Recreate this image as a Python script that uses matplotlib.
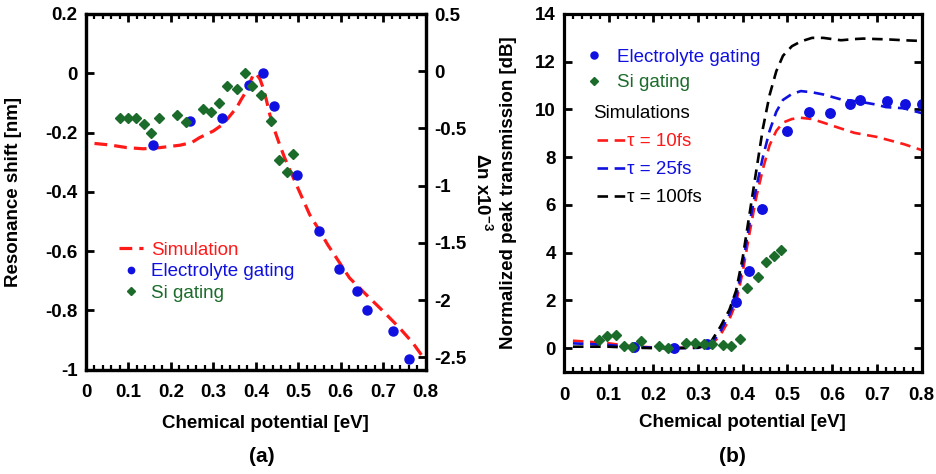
import numpy as np
import matplotlib
matplotlib.use("Agg")
import matplotlib.pyplot as plt
from matplotlib.ticker import MultipleLocator, FuncFormatter

plt.rcParams['font.family'] = ['Liberation Sans', 'DejaVu Sans']
plt.rcParams['axes.unicode_minus'] = False
plt.rcParams['mathtext.fontset'] = 'custom'
plt.rcParams['mathtext.rm'] = 'Liberation Sans:bold'
plt.rcParams['mathtext.bf'] = 'Liberation Sans:bold'

RED = '#ff1a1a'
BLUE = '#1010e0'
GREEN = '#1b6b2b'
FS = 13.5

# ---- (a) resonance shift ----
sim_a_x = [0.02, 0.056, 0.096, 0.135, 0.174, 0.221, 0.249, 0.268, 0.30, 0.323, 0.339,
           0.355, 0.366, 0.378, 0.386, 0.394, 0.400, 0.41, 0.417, 0.425, 0.433, 0.445,
           0.456, 0.468, 0.48, 0.50, 0.527, 0.551, 0.57, 0.59, 0.621, 0.66, 0.70,
           0.739, 0.77, 0.80]
sim_a_y = [-0.237, -0.242, -0.251, -0.255, -0.251, -0.243, -0.234, -0.217, -0.195,
           -0.172, -0.144, -0.116, -0.088, -0.060, -0.032, -0.006, 0.0, -0.02, -0.048,
           -0.09, -0.139, -0.195, -0.240, -0.285, -0.325, -0.39, -0.477, -0.533, -0.58,
           -0.623, -0.691, -0.747, -0.803, -0.860, -0.91, -0.97]

el_a_x = [0.158, 0.246, 0.321, 0.384, 0.416, 0.444, 0.498, 0.549, 0.595, 0.639,
          0.661, 0.723, 0.762]
el_a_y = [-0.242, -0.161, -0.152, -0.041, 0.0, -0.112, -0.343, -0.531, -0.660,
          -0.734, -0.800, -0.871, -0.966]

si_a_x = [0.080, 0.100, 0.118, 0.136, 0.152, 0.173, 0.215, 0.235, 0.275, 0.294,
          0.314, 0.333, 0.356, 0.375, 0.392, 0.413, 0.435, 0.454, 0.474, 0.488]
si_a_y = [-0.152, -0.152, -0.152, -0.172, -0.203, -0.152, -0.141, -0.163, -0.122,
          -0.131, -0.101, -0.042, -0.052, 0.0, -0.042, -0.073, -0.162, -0.294,
          -0.335, -0.274]

# ---- (b) normalized peak transmission ----
sim_b_x = [0.02, 0.06, 0.10, 0.15, 0.20, 0.25, 0.30, 0.33, 0.35, 0.37, 0.385, 0.40,
           0.415, 0.43, 0.445, 0.46, 0.475, 0.49, 0.51, 0.53, 0.555, 0.58, 0.62,
           0.65, 0.67, 0.70, 0.72, 0.76, 0.80]
tau10 = [0.31, 0.26, 0.20, 0.08, 0.03, 0.01, 0.02, 0.15, 0.55, 1.2, 1.9, 3.2, 4.8,
         6.3, 7.5, 8.5, 9.1, 9.45, 9.6, 9.65, 9.6, 9.45, 9.2, 9.02, 8.95, 8.85,
         8.75, 8.55, 8.3]
tau25 = [0.20, 0.17, 0.13, 0.05, 0.02, 0.0, 0.01, 0.2, 0.7, 1.4, 2.1, 3.5, 5.2,
         6.7, 8.0, 9.1, 9.9, 10.4, 10.65, 10.77, 10.72, 10.63, 10.42, 10.35, 10.3,
         10.2, 10.1, 10.05, 9.85]
tau100 = [0.06, 0.06, 0.06, 0.02, 0.0, 0.0, 0.02, 0.3, 0.9, 1.6, 2.4, 3.8, 5.6,
          7.4, 9.2, 10.6, 11.6, 12.25, 12.65, 12.85, 13.0, 13.0, 12.9, 12.95,
          12.97, 12.95, 12.94, 12.9, 12.87]

el_b_x = [0.156, 0.246, 0.319, 0.385, 0.415, 0.443, 0.499, 0.549, 0.596, 0.640,
          0.663, 0.723, 0.763, 0.800]
el_b_y = [0.04, 0.0, 0.18, 1.92, 3.24, 5.85, 9.09, 9.89, 9.86, 10.25, 10.39,
          10.36, 10.21, 10.22]

si_b_x = [0.079, 0.097, 0.116, 0.135, 0.153, 0.172, 0.213, 0.233, 0.274, 0.294,
          0.313, 0.331, 0.355, 0.374, 0.393, 0.410, 0.434, 0.452, 0.471, 0.486]
si_b_y = [0.35, 0.52, 0.56, 0.11, 0.04, 0.31, 0.08, 0.0, 0.21, 0.21, 0.17, 0.18,
          0.14, 0.11, 0.38, 2.52, 2.99, 3.62, 3.87, 4.13]

fmt = FuncFormatter(lambda v, p: '%g' % round(v, 3))


def style_axis(ax, xmaj=0.1, xmin=0.02):
    for s in ax.spines.values():
        s.set_linewidth(2.3)
    ax.xaxis.set_major_locator(MultipleLocator(xmaj))
    ax.xaxis.set_minor_locator(MultipleLocator(xmin))
    ax.xaxis.set_major_formatter(fmt)
    ax.yaxis.set_major_formatter(fmt)
    ax.tick_params(axis='both', which='major', direction='in', length=6, width=2,
                   labelsize=FS)
    ax.tick_params(axis='both', which='minor', direction='in', length=3.5, width=1.6)
    ax.tick_params(axis='x', which='both', top=True, pad=10.5)
    ax.tick_params(axis='y', which='major', pad=6)
    for lab in ax.get_xticklabels() + ax.get_yticklabels():
        lab.set_fontweight('bold')


fig = plt.figure(figsize=(9.36, 4.74), dpi=100)

# panel (a)
ax1 = fig.add_axes([86 / 936, 1 - 369.5 / 474, 339.5 / 936, 355.5 / 474])
ax1.plot(sim_a_x, sim_a_y, color=RED, lw=2.3, dashes=(4, 2.2), label='Simulation')
ax1.plot(el_a_x, el_a_y, 'o', color=BLUE, ms=6.5, label='Electrolyte gating')
ax1.plot(si_a_x, si_a_y, 'D', color=GREEN, ms=5.2, label='Si gating')
ax1.set_xlim(0, 0.8)
ax1.set_ylim(-1, 0.2)
ax1.yaxis.set_major_locator(MultipleLocator(0.2))
style_axis(ax1)
ax1.tick_params(axis='y', right=False)
ax1.set_xlabel('Chemical potential [eV]', fontsize=FS, fontweight='bold')
ax1.xaxis.set_label_coords(0.529, -0.128)
ax1.set_ylabel('Resonance shift [nm]', fontsize=FS, fontweight='bold')
ax1.yaxis.set_label_coords(-0.188, 0.5)
leg = ax1.legend(loc='upper left', bbox_to_anchor=(0.097, 0.359), frameon=False,
                 fontsize=FS, handlelength=1.28, handletextpad=0.43,
                 labelspacing=0.23, borderpad=0, borderaxespad=0, markerscale=0.7)
for t, c in zip(leg.get_texts(), [RED, BLUE, GREEN]):
    t.set_color(c)

ax1r = ax1.twinx()
ax1r.set_ylim(-2.605, 0.5)
ax1r.yaxis.set_major_locator(MultipleLocator(0.5))
for s in ax1r.spines.values():
    s.set_linewidth(2.3)
ax1r.yaxis.set_major_formatter(fmt)
ax1r.tick_params(axis='y', direction='in', length=6, width=2, labelsize=FS, pad=6)
for lab in ax1r.get_yticklabels():
    lab.set_fontweight('bold')
ax1r.set_ylabel(r'Δn x10$^{-3}$', fontsize=FS, fontweight='bold', rotation=270,
                va='center')
ax1r.yaxis.set_label_coords(1.168, 0.5)

# panel (b)
ax2 = fig.add_axes([564 / 936, 1 - 372 / 474, 357.5 / 936, 358 / 474])
ax2.plot(sim_b_x, tau10, color=RED, lw=1.9, dashes=(4, 2.5), label='τ = 10fs')
ax2.plot(sim_b_x, tau25, color=BLUE, lw=1.9, dashes=(4, 2.5), label='τ = 25fs')
ax2.plot(sim_b_x, tau100, color='black', lw=1.9, dashes=(4, 2.5), label='τ = 100fs')
m1, = ax2.plot(el_b_x, el_b_y, 'o', color=BLUE, ms=6.8, label='Electrolyte gating')
m2, = ax2.plot(si_b_x, si_b_y, 'D', color=GREEN, ms=5.2, label='Si gating')
ax2.set_xlim(0, 0.8)
ax2.set_ylim(-1, 14)
ax2.yaxis.set_major_locator(MultipleLocator(2))
style_axis(ax2)
ax2.tick_params(axis='y', right=True)
ax2.set_xlabel('Chemical potential [eV]', fontsize=FS, fontweight='bold')
ax2.xaxis.set_label_coords(0.5, -0.116)
ax2.set_ylabel('Normalized peak transmission [dB]', fontsize=FS, fontweight='bold')
ax2.yaxis.set_label_coords(-0.132, 0.5)

leg1 = ax2.legend(handles=[m1, m2], loc='upper left', bbox_to_anchor=(0.053, 0.903),
                  frameon=False, fontsize=FS, handlelength=1.23, handletextpad=0.59,
                  labelspacing=0.45, borderpad=0, borderaxespad=0, markerscale=0.75)
for t, c in zip(leg1.get_texts(), [BLUE, GREEN]):
    t.set_color(c)
ax2.add_artist(leg1)
ax2.text(0.081, 0.723, 'Simulations', transform=ax2.transAxes, fontsize=FS,
         va='center', ha='left')
lines = ax2.get_lines()[:3]
leg2 = ax2.legend(handles=lines, loc='upper left', bbox_to_anchor=(0.092, 0.667),
                  frameon=False, fontsize=FS, handlelength=1.5, handletextpad=0.1,
                  labelspacing=0.58, borderpad=0, borderaxespad=0)
for t, c in zip(leg2.get_texts(), [RED, BLUE, 'black']):
    t.set_color(c)

fig.text(262 / 936, 1 - 457 / 474, '(a)', fontsize=15, fontweight='bold',
         ha='center', va='center')
fig.text(732 / 936, 1 - 457 / 474, '(b)', fontsize=15, fontweight='bold',
         ha='center', va='center')

fig.savefig('out.png', dpi=100)
